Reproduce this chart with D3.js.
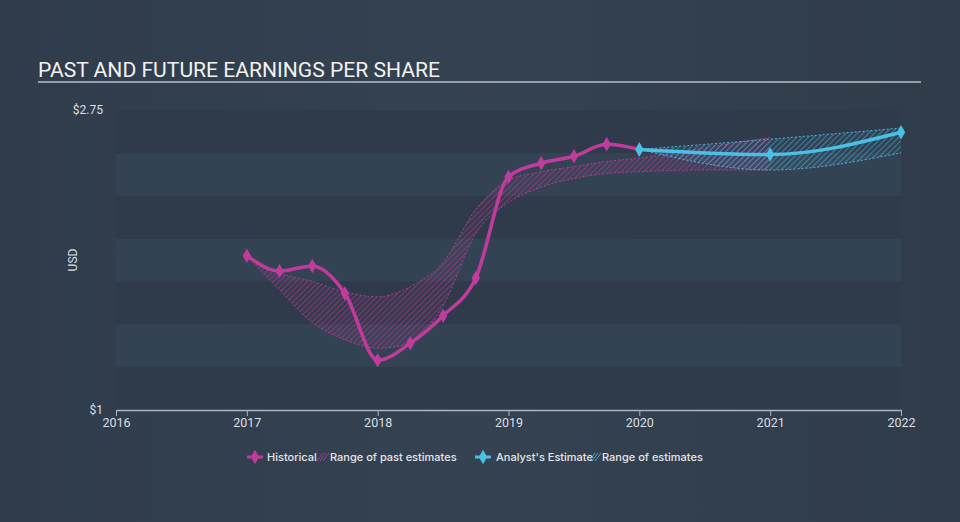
<!DOCTYPE html>
<html>
<head>
<meta charset="utf-8">
<script src="https://cdn.jsdelivr.net/npm/d3@7"></script>
<style>
  html, body { margin: 0; padding: 0; background: #323f4f; }
  svg { display: block; }
</style>
</head>
<body>
<svg id="chart" width="960" height="522"></svg>
<script>
// ---------- data ----------
const title = "PAST AND FUTURE EARNINGS PER SHARE";
const yTickValues = [1, 2.75];
const yTickLabels = ["$1", "$2.75"];
const xTickValues = [2016, 2017, 2018, 2019, 2020, 2021, 2022];

const histYears = [2017, 2017.25, 2017.5, 2017.75, 2018, 2018.25, 2018.5, 2018.75, 2019, 2019.25, 2019.5, 2019.75, 2020];
const histEPS   = [1.90, 1.81, 1.84, 1.68, 1.29, 1.39, 1.55, 1.77, 2.36, 2.44, 2.48, 2.55, 2.52];

const pastRangeYears = [2017, 2017.25, 2017.5, 2017.75, 2018, 2018.25, 2018.5, 2018.75, 2019, 2019.25, 2019.5, 2019.75, 2020, 2020.5, 2021];
const pastLow  = [1.90, 1.70, 1.51, 1.41, 1.36, 1.39, 1.61, 2.03, 2.21, 2.30, 2.35, 2.38, 2.39, 2.40, 2.40];
const pastHigh = [1.90, 1.80, 1.75, 1.69, 1.66, 1.72, 1.86, 2.17, 2.34, 2.39, 2.42, 2.45, 2.47, 2.53, 2.59];

const estYears = [2020, 2021, 2022];
const estEPS   = [2.52, 2.49, 2.62];
const estLow   = [2.52, 2.40, 2.50];
const estHigh  = [2.52, 2.58, 2.645];

const legendLabels = ["Historical", "Range of past estimates", "Analyst's Estimate", "Range of estimates"];

// ---------- layout ----------
const W = 960, H = 522;
const plot = { left: 116, right: 901, top: 110, bottom: 410 };
const pink = "#c13b9d";
const cyan = "#4cbfe6";

const svg = d3.select("#chart");
const defs = svg.append("defs");

// background gradient
const bg = defs.append("linearGradient").attr("id", "bg").attr("x1", 0).attr("x2", 1).attr("y1", 0).attr("y2", 0);
bg.append("stop").attr("offset", "0%").attr("stop-color", "#303c4b");
bg.append("stop").attr("offset", "50%").attr("stop-color", "#344252");
bg.append("stop").attr("offset", "100%").attr("stop-color", "#303c4a");
svg.append("rect").attr("width", W).attr("height", H).attr("fill", "url(#bg)");

function hatch(id, color) {
  const p = defs.append("pattern").attr("id", id)
    .attr("patternUnits", "userSpaceOnUse").attr("width", 4).attr("height", 4)
    .attr("patternTransform", "rotate(45)");
  p.append("line").attr("x1", 0).attr("y1", 0).attr("x2", 0).attr("y2", 4)
    .attr("stroke", color).attr("stroke-width", 1.3).attr("stroke-opacity", 0.75);
}
hatch("hatchPink", pink);
hatch("hatchCyan", cyan);

const x = d3.scaleLinear().domain([2016, 2022]).range([plot.left, plot.right]);
const y = d3.scaleLinear().domain([1, 2.75]).range([plot.bottom, plot.top]);

// alternating bands (every 0.25)
const bandEdges = d3.range(1, 2.75, 0.25);
svg.append("g").selectAll("rect").data(bandEdges).join("rect")
  .attr("x", plot.left).attr("width", plot.right - plot.left)
  .attr("y", d => y(d + 0.25)).attr("height", d => y(d) - y(d + 0.25))
  .attr("fill", (d, i) => i % 2 === 0 ? "#2f3b4a" : "#344353");

// title
svg.append("text").attr("x", 38).attr("y", 77).text(title)
  .attr("fill", "#f2f2f2").attr("font-family", "Roboto, sans-serif").attr("font-size", 21.1);
svg.append("line").attr("x1", 38).attr("x2", 921).attr("y1", 82).attr("y2", 82)
  .attr("stroke", "#b8bec6").attr("stroke-width", 1.5);

// y labels
svg.append("g").selectAll("text").data(yTickValues).join("text")
  .attr("x", 103).attr("y", d => y(d) + 4).attr("text-anchor", "end")
  .attr("fill", "#dcdfe3").attr("font-family", "Roboto, sans-serif").attr("font-size", 12)
  .text((d, i) => yTickLabels[i]);
svg.append("text").attr("transform", `translate(77,${(plot.top + plot.bottom) / 2}) rotate(-90)`)
  .attr("text-anchor", "middle").attr("fill", "#dcdfe3")
  .attr("font-family", "Roboto, sans-serif").attr("font-size", 12).text("USD");

// x axis
const xAxis = d3.axisBottom(x).tickValues(xTickValues).tickFormat(d3.format("d")).tickSize(6).tickSizeOuter(0);
const gx = svg.append("g").attr("transform", `translate(0,${plot.bottom})`).call(xAxis);
gx.select(".domain").attr("stroke", "#a9b4c2").attr("stroke-width", 1.5);
gx.selectAll(".tick line").attr("stroke", "#a9b4c2");
gx.selectAll(".tick text").attr("fill", "#dcdfe3").attr("font-family", "Roboto, sans-serif")
  .attr("font-size", 12.5).attr("dy", "0.6em");

// ranges
const curve = d3.curveMonotoneX;
const pastIdx = d3.range(pastRangeYears.length);
const areaPast = d3.area().curve(curve).x(i => x(pastRangeYears[i])).y0(i => y(pastLow[i])).y1(i => y(pastHigh[i]));
const linePastLow = d3.line().curve(curve).x(i => x(pastRangeYears[i])).y(i => y(pastLow[i]));
const linePastHigh = d3.line().curve(curve).x(i => x(pastRangeYears[i])).y(i => y(pastHigh[i]));
svg.append("path").attr("d", areaPast(pastIdx)).attr("fill", pink).attr("fill-opacity", 0.07);
svg.append("path").attr("d", areaPast(pastIdx)).attr("fill", "url(#hatchPink)");
[linePastLow, linePastHigh].forEach(l => svg.append("path").attr("d", l(pastIdx))
  .attr("fill", "none").attr("stroke", pink).attr("stroke-width", 1).attr("stroke-dasharray", "2,2").attr("stroke-opacity", 0.85));

const estIdx = d3.range(estYears.length);
const areaEst = d3.area().curve(curve).x(i => x(estYears[i])).y0(i => y(estLow[i])).y1(i => y(estHigh[i]));
const lineEstLow = d3.line().curve(curve).x(i => x(estYears[i])).y(i => y(estLow[i]));
const lineEstHigh = d3.line().curve(curve).x(i => x(estYears[i])).y(i => y(estHigh[i]));
svg.append("path").attr("d", areaEst(estIdx)).attr("fill", cyan).attr("fill-opacity", 0.07);
svg.append("path").attr("d", areaEst(estIdx)).attr("fill", "url(#hatchCyan)");
[lineEstLow, lineEstHigh].forEach(l => svg.append("path").attr("d", l(estIdx))
  .attr("fill", "none").attr("stroke", cyan).attr("stroke-width", 1).attr("stroke-dasharray", "2,2").attr("stroke-opacity", 0.9));

// lines
const diamond = d3.symbol().type(d3.symbolDiamond).size(60);
const histIdx = d3.range(histYears.length);
svg.append("path").attr("d", d3.line().curve(curve).x(i => x(histYears[i])).y(i => y(histEPS[i]))(histIdx))
  .attr("fill", "none").attr("stroke", pink).attr("stroke-width", 3.5).attr("stroke-linejoin", "round");
svg.append("g").selectAll("path").data(histIdx).join("path")
  .attr("d", diamond).attr("transform", i => `translate(${x(histYears[i])},${y(histEPS[i])})`).attr("fill", pink);

svg.append("path").attr("d", d3.line().curve(curve).x(i => x(estYears[i])).y(i => y(estEPS[i]))(estIdx))
  .attr("fill", "none").attr("stroke", cyan).attr("stroke-width", 3.5);
svg.append("g").selectAll("path").data(estIdx).join("path")
  .attr("d", diamond).attr("transform", i => `translate(${x(estYears[i])},${y(estEPS[i])})`).attr("fill", cyan);

// legend
const ly = 457;
const lg = svg.append("g").attr("font-family", "Inter, Roboto, sans-serif").attr("font-size", 11)
  .attr("font-weight", 500).attr("fill", "#e4e6e9");
function lineIcon(cx, color) {
  lg.append("line").attr("x1", cx - 8).attr("x2", cx + 8).attr("y1", ly).attr("y2", ly)
    .attr("stroke", color).attr("stroke-width", 3);
  lg.append("path").attr("d", diamond).attr("transform", `translate(${cx},${ly})`).attr("fill", color);
}
function hatchIcon(cx, color) {
  [-3, 0, 3].forEach(o => lg.append("line")
    .attr("x1", cx + o - 3).attr("y1", ly + 4).attr("x2", cx + o + 3).attr("y2", ly - 4)
    .attr("stroke", color).attr("stroke-width", 1).attr("stroke-opacity", 0.8));
}
lineIcon(255, pink);
lg.append("text").attr("x", 267).attr("y", ly + 4).text(legendLabels[0]);
hatchIcon(323, pink);
lg.append("text").attr("x", 330).attr("y", ly + 4).text(legendLabels[1]);
lineIcon(483, cyan);
lg.append("text").attr("x", 496).attr("y", ly + 4).text(legendLabels[2]);
hatchIcon(595, cyan);
lg.append("text").attr("x", 602).attr("y", ly + 4).text(legendLabels[3]);
</script>
</body>
</html>
